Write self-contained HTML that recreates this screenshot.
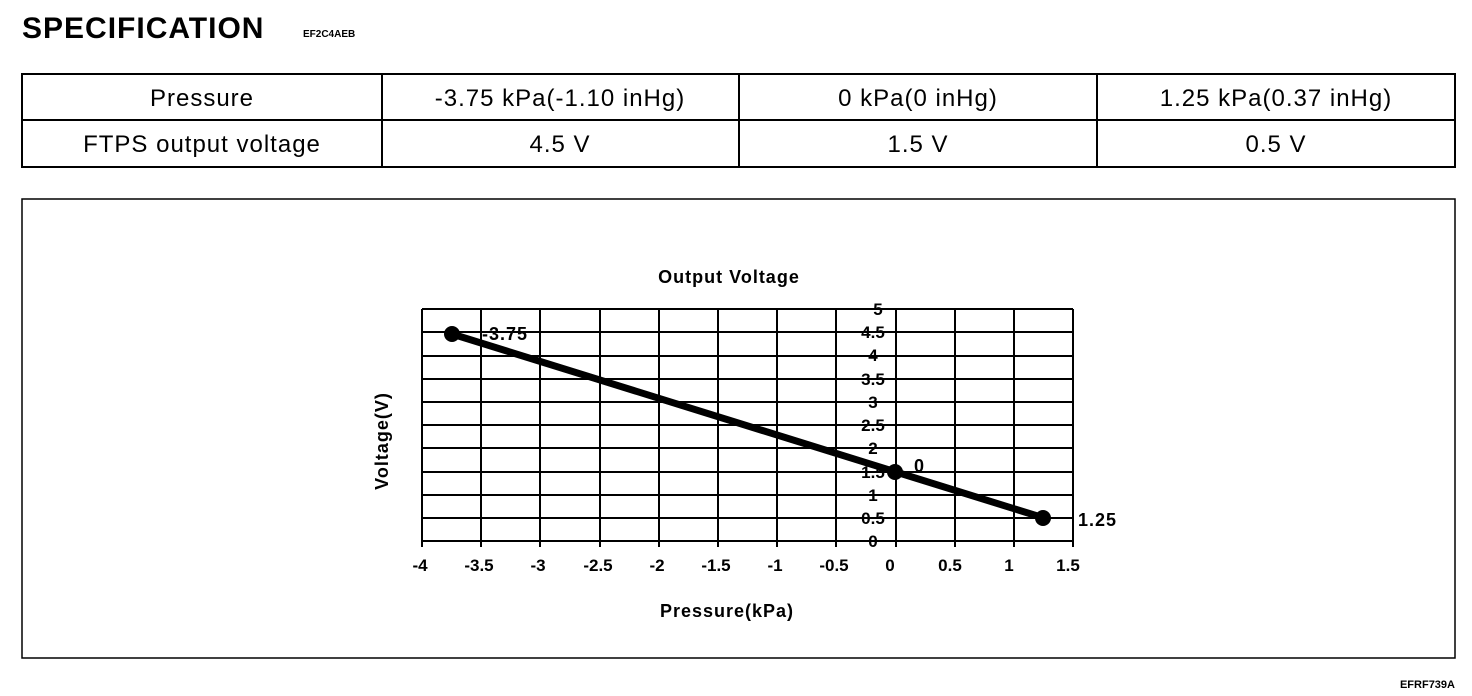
<!DOCTYPE html>
<html><head><style>
body{margin:0;width:1472px;height:696px;background:#fff;font-family:"Liberation Sans",Arial,sans-serif;position:relative;overflow:hidden}
.t{position:absolute}
</style></head><body>
<div class="t" style="left:22px;top:12px;font-size:30px;font-weight:bold;letter-spacing:1px;">SPECIFICATION</div>
<div class="t" style="left:303px;top:29px;font-size:10px;font-weight:bold;">EF2C4AEB</div>
<svg width="1472" height="696" style="position:absolute;left:0;top:0" font-family="Liberation Sans, Arial, sans-serif">
<g stroke="#000" stroke-width="2" fill="none">
<rect x="22" y="74" width="1433" height="93"/>
<line x1="22" y1="120" x2="1455" y2="120"/>
<line x1="382" y1="74" x2="382" y2="167"/>
<line x1="739" y1="74" x2="739" y2="167"/>
<line x1="1097" y1="74" x2="1097" y2="167"/>
<rect x="22" y="199" width="1433" height="459" stroke-width="1.5"/>
</g>
<g font-size="24" text-anchor="middle" letter-spacing="1">
<text x="202" y="106">Pressure</text>
<text x="560" y="106">-3.75 kPa(-1.10 inHg)</text>
<text x="918" y="106">0 kPa(0 inHg)</text>
<text x="1276" y="106">1.25 kPa(0.37 inHg)</text>
<text x="202" y="152">FTPS output voltage</text>
<text x="560" y="152">4.5 V</text>
<text x="918" y="152">1.5 V</text>
<text x="1276" y="152">0.5 V</text>
</g>
<g stroke="#000" stroke-width="2">
<line x1="422" y1="309" x2="1073" y2="309"/><line x1="422" y1="332" x2="1073" y2="332"/><line x1="422" y1="356" x2="1073" y2="356"/><line x1="422" y1="379" x2="1073" y2="379"/><line x1="422" y1="402" x2="1073" y2="402"/><line x1="422" y1="425" x2="1073" y2="425"/><line x1="422" y1="448" x2="1073" y2="448"/><line x1="422" y1="472" x2="1073" y2="472"/><line x1="422" y1="495" x2="1073" y2="495"/><line x1="422" y1="518" x2="1073" y2="518"/><line x1="422" y1="541" x2="1073" y2="541"/>
<line x1="422" y1="309" x2="422" y2="547"/><line x1="481" y1="309" x2="481" y2="547"/><line x1="540" y1="309" x2="540" y2="547"/><line x1="600" y1="309" x2="600" y2="547"/><line x1="659" y1="309" x2="659" y2="547"/><line x1="718" y1="309" x2="718" y2="547"/><line x1="777" y1="309" x2="777" y2="547"/><line x1="836" y1="309" x2="836" y2="547"/><line x1="896" y1="309" x2="896" y2="547"/><line x1="955" y1="309" x2="955" y2="547"/><line x1="1014" y1="309" x2="1014" y2="547"/><line x1="1073" y1="309" x2="1073" y2="547"/>
</g>
<polyline points="452,334 896,472 1044,518" stroke="#000" stroke-width="7" fill="none"/>
<g fill="#000"><circle cx="452" cy="334" r="8"/><circle cx="895" cy="472" r="8"/><circle cx="1043" cy="518" r="8"/></g>
<g font-size="18" font-weight="bold" letter-spacing="1">
<text x="729" y="283" text-anchor="middle">Output Voltage</text>
<text x="727" y="617" text-anchor="middle">Pressure(kPa)</text>
<text transform="translate(388,441) rotate(-90)" text-anchor="middle">Voltage(V)</text>
<text x="482" y="340">-3.75</text>
<text x="914" y="472">0</text>
<text x="1078" y="526">1.25</text>
</g>
<g font-size="17" font-weight="bold" text-anchor="middle">
<text x="878" y="315">5</text><text x="873" y="338">4.5</text><text x="873" y="361">4</text><text x="873" y="385">3.5</text><text x="873" y="408">3</text><text x="873" y="431">2.5</text><text x="873" y="454">2</text><text x="873" y="478">1.5</text><text x="873" y="501">1</text><text x="873" y="524">0.5</text><text x="873" y="547">0</text>
<text x="420" y="571">-4</text><text x="479" y="571">-3.5</text><text x="538" y="571">-3</text><text x="598" y="571">-2.5</text><text x="657" y="571">-2</text><text x="716" y="571">-1.5</text><text x="775" y="571">-1</text><text x="834" y="571">-0.5</text><text x="890" y="571">0</text><text x="950" y="571">0.5</text><text x="1009" y="571">1</text><text x="1068" y="571">1.5</text>
</g>
<text x="1455" y="688" font-size="11" font-weight="bold" text-anchor="end">EFRF739A</text>
</svg>
</body></html>
